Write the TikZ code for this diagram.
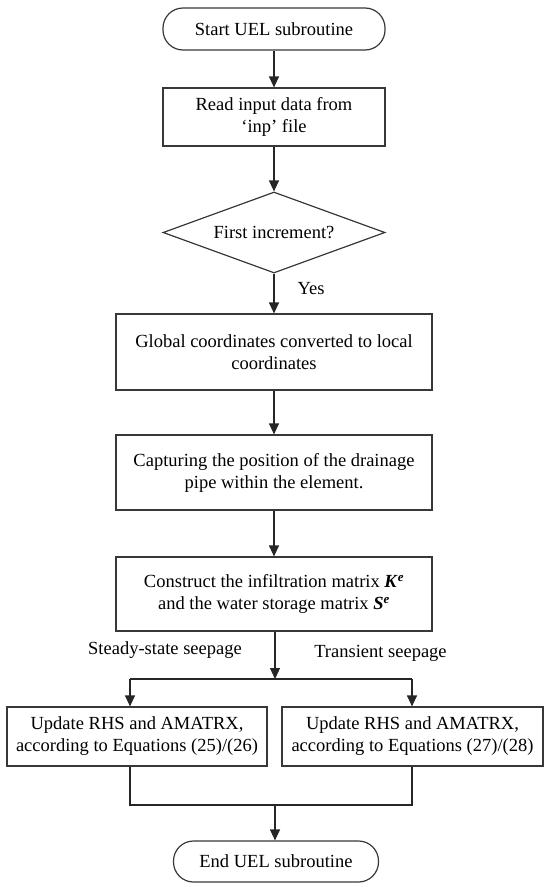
\documentclass[tikz,border=0pt]{standalone}
\usepackage{fontspec}
\setmainfont{Liberation Serif}
\usetikzlibrary{shapes.geometric,arrows.meta}
\begin{document}
\begin{tikzpicture}[x=1pt,y=-1pt,
  line width=1.2pt,
  every node/.style={font=\fontsize{18.5}{22}\selectfont, text=black},
  box/.style={draw=black!78, rectangle, inner sep=2pt, align=center},
  term/.style={draw=black!78, rectangle, rounded corners=20pt, inner sep=2pt, align=center},
  dia/.style={draw=black!78, diamond, aspect=2.74, inner sep=0pt, align=center},
  lbl/.style={inner sep=0pt},
  conn/.style={draw=black!85},
  arr/.style={draw=black!85, -{Triangle[width=10pt,length=11pt]}}]
\useasboundingbox (0,0) rectangle (550,894);
\node[term, minimum width=222pt, minimum height=42pt] (start) at (274,29) {Start UEL subroutine};
\node[box, minimum width=222pt, minimum height=58pt] (read) at (274,117) {Read input data from\\ `inp' file};
\node[dia, minimum width=222pt, minimum height=81pt] (dec) at (274,232.5) {First increment?};
\node[box, minimum width=316pt, minimum height=76pt] (glob) at (274,352) {Global coordinates converted to local\\ coordinates};
\node[box, minimum width=316pt, minimum height=75pt] (capt) at (274,472.5) {Capturing the position of the drainage\\ pipe within the element.};
\node[box, minimum width=316pt, minimum height=74pt] (cons) at (274,594) {Construct the infiltration matrix \textbf{\textit{K}}\textsuperscript{\textbf{\textit{e}}}\\ and the water storage matrix \textbf{\textit{S}}\textsuperscript{\textbf{\textit{e}}}};
\node[box, minimum width=260pt, minimum height=59pt] (left) at (137,736.5) {Update RHS and AMATRX,\\ according to Equations (25)/(26)};
\node[box, minimum width=261pt, minimum height=59pt] (right) at (412.5,736.5) {Update RHS and AMATRX,\\ according to Equations (27)/(28)};
\node[term, minimum width=205pt, minimum height=41pt] (end) at (276,861.5) {End UEL subroutine};
\node[lbl] (yes) at (311,289) {Yes};
\node[lbl] (steady) at (165,650) {Steady-state seepage};
\node[lbl] (trans) at (380.5,653) {Transient seepage};
\coordinate (split) at (275,679);
\coordinate (sl) at (130,679);
\coordinate (sr) at (412,679);
\coordinate (jl) at (130,805);
\coordinate (jr) at (412,805);
\coordinate (jc) at (275,805);
\draw[arr] (start.south) -- (read.north);
\draw[arr] (read.south) -- (dec.north);
\draw[arr] (dec.south) -- (glob.north);
\draw[arr] (glob.south) -- (capt.north);
\draw[arr] (capt.south) -- (cons.north);
\draw[arr] (cons.south -| split) -- (split);
\draw[conn] (sl) -- (sr);
\draw[arr] (sl) -- (sl |- left.north);
\draw[arr] (sr) -- (sr |- right.north);
\draw[conn] (jl |- left.south) -- (jl) -- (jr) -- (jr |- right.south);
\draw[arr] (jc) -- (jc |- end.north);
\end{tikzpicture}
\end{document}
